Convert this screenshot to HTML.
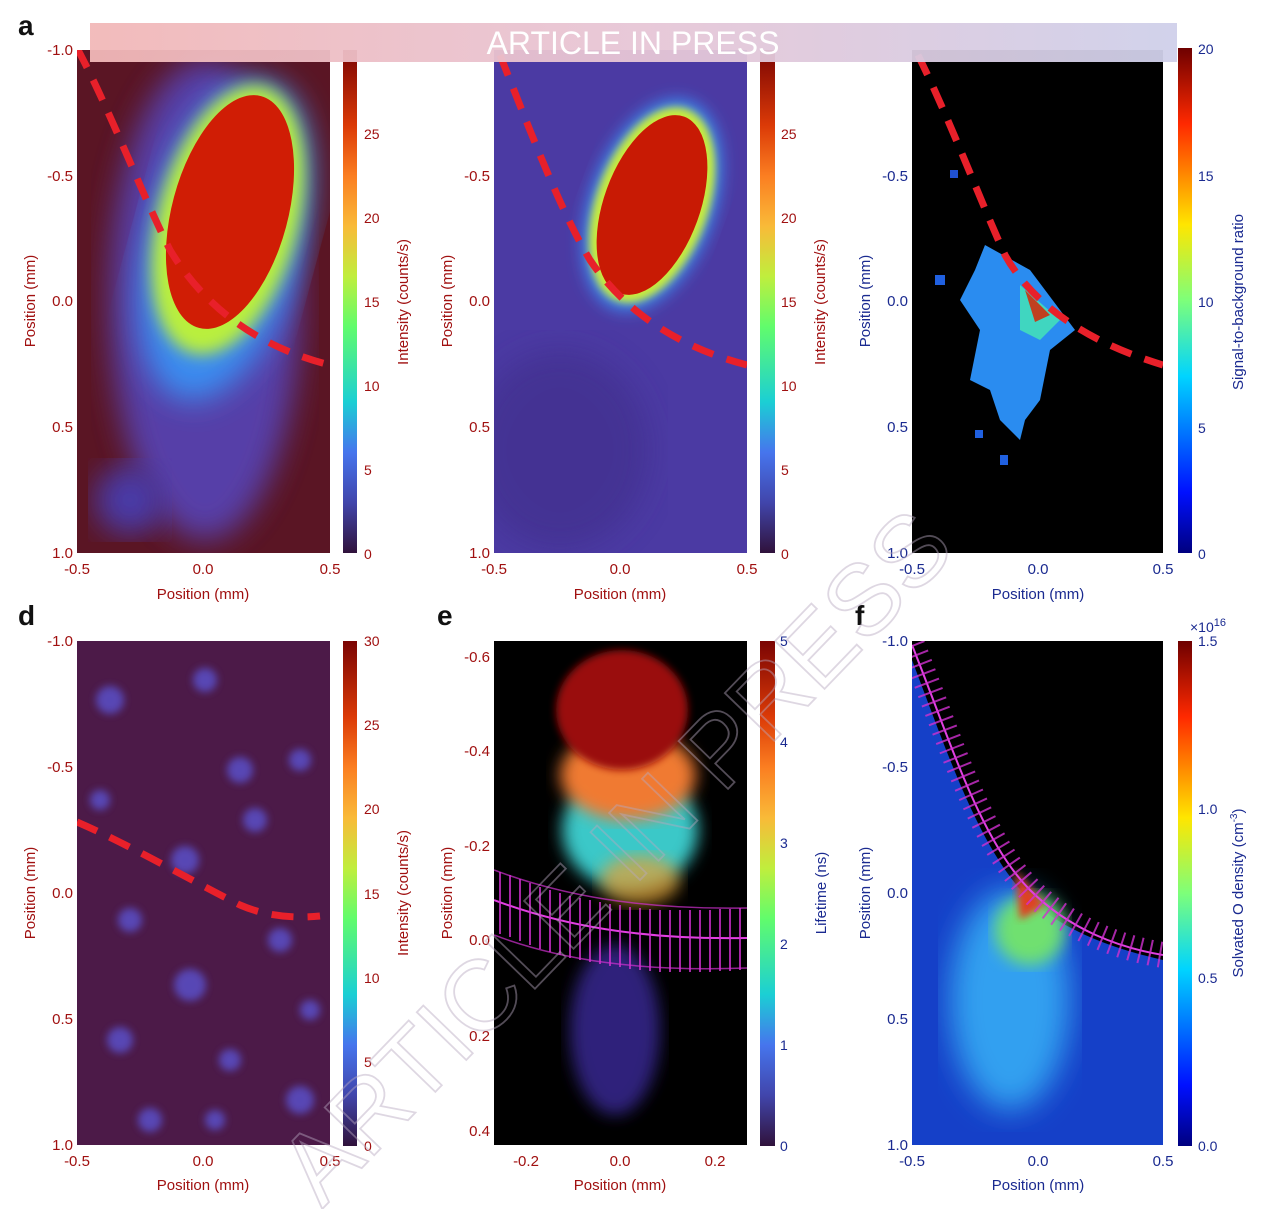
<!DOCTYPE html>
<html><head><meta charset="utf-8"><style>
html,body{margin:0;padding:0;background:#fff;width:1280px;height:1209px;overflow:hidden;}
svg{display:block;font-family:"Liberation Sans",sans-serif;}
</style></head><body>
<svg width="1280" height="1209" viewBox="0 0 1280 1209" xmlns="http://www.w3.org/2000/svg">
<defs>
<linearGradient id="turbo" x1="0" y1="1" x2="0" y2="0">
<stop offset="0" stop-color="#30123b"/><stop offset="0.1" stop-color="#4145ab"/><stop offset="0.2" stop-color="#4675ed"/>
<stop offset="0.3" stop-color="#1bcfd4"/><stop offset="0.45" stop-color="#61fc6c"/><stop offset="0.55" stop-color="#c0ee3d"/>
<stop offset="0.65" stop-color="#f9ba38"/><stop offset="0.75" stop-color="#fb7e21"/><stop offset="0.85" stop-color="#db3a07"/>
<stop offset="1" stop-color="#7a0403"/></linearGradient>
<linearGradient id="jet" x1="0" y1="1" x2="0" y2="0">
<stop offset="0" stop-color="#00007f"/><stop offset="0.12" stop-color="#0010ff"/><stop offset="0.35" stop-color="#00d4ff"/>
<stop offset="0.5" stop-color="#7dff7a"/><stop offset="0.65" stop-color="#ffe600"/><stop offset="0.85" stop-color="#ff2900"/>
<stop offset="1" stop-color="#6e0000"/></linearGradient>
<linearGradient id="ban" x1="0" x2="1"><stop offset="0" stop-color="#f2b8b8"/><stop offset="0.5" stop-color="#e7c6d6"/><stop offset="1" stop-color="#cfd0ea"/></linearGradient>
<filter id="b8"><feGaussianBlur stdDeviation="8"/></filter>
<filter id="b15"><feGaussianBlur stdDeviation="15"/></filter>
<filter id="b4"><feGaussianBlur stdDeviation="4"/></filter>
<clipPath id="ca"><rect x="77" y="50" width="253" height="503"/></clipPath>
<clipPath id="cb"><rect x="494" y="50" width="253" height="503"/></clipPath>
<clipPath id="cc"><rect x="912" y="50" width="251" height="503"/></clipPath>
<clipPath id="cd"><rect x="77" y="641" width="253" height="504"/></clipPath>
<clipPath id="ce"><rect x="494" y="641" width="253" height="504"/></clipPath>
<clipPath id="cf"><rect x="912" y="641" width="251" height="504"/></clipPath>
</defs>

<!-- Panel a -->
<g clip-path="url(#ca)">
<rect x="77" y="50" width="253" height="503" fill="#5a1524"/>
<ellipse cx="205" cy="300" rx="95" ry="240" fill="#5646c0" filter="url(#b15)" opacity="0.85"/>
<ellipse cx="130" cy="500" rx="35" ry="35" fill="#4a3aa8" filter="url(#b15)"/>
<ellipse cx="225" cy="240" rx="78" ry="165" transform="rotate(15 225 240)" fill="#3b8cf0" filter="url(#b15)"/>
<ellipse cx="228" cy="220" rx="70" ry="138" transform="rotate(15 228 220)" fill="#b9ef3e" filter="url(#b8)"/>
<ellipse cx="230" cy="212" rx="58" ry="120" transform="rotate(15 230 212)" fill="#d01d05"/>
<path d="M77,48 C110,110 140,190 170,250 C200,300 250,345 330,365" stroke="#e8202a" stroke-width="7" fill="none" stroke-dasharray="22,14"/>
</g>
<rect x="343" y="50" width="14" height="503" fill="url(#turbo)"/>

<!-- Panel b -->
<g clip-path="url(#cb)">
<rect x="494" y="50" width="253" height="503" fill="#4b3aa3"/>
<ellipse cx="560" cy="450" rx="90" ry="100" fill="#3f2f8a" filter="url(#b15)" opacity="0.6"/>
<ellipse cx="652" cy="205" rx="62" ry="110" transform="rotate(20 652 205)" fill="#3a8bf0" filter="url(#b8)"/>
<ellipse cx="652" cy="205" rx="56" ry="102" transform="rotate(20 652 205)" fill="#c8ec3c" filter="url(#b4)"/>
<ellipse cx="652" cy="205" rx="48" ry="94" transform="rotate(20 652 205)" fill="#c81a04"/>
<path d="M500,55 C530,130 560,210 590,260 C620,305 670,345 747,365" stroke="#e8202a" stroke-width="7" fill="none" stroke-dasharray="22,14"/>
</g>
<rect x="760" y="50" width="15" height="503" fill="url(#turbo)"/>

<!-- Panel c -->
<g clip-path="url(#cc)">
<rect x="912" y="50" width="251" height="503" fill="#000"/>
<path d="M985,245 L1030,270 L1075,330 L1050,350 L1040,400 L1025,420 L1020,440 L1000,420 L990,390 L970,380 L980,330 L960,300 L975,270 Z" fill="#2a8cf0"/>
<path d="M1020,285 L1060,320 L1040,340 L1020,330 Z" fill="#40d6c0"/>
<path d="M1025,290 L1050,315 L1035,322 Z" fill="#c04020"/>
<rect x="1000" y="455" width="8" height="10" fill="#2060e0"/><rect x="975" y="430" width="8" height="8" fill="#2060e0"/>
<rect x="950" y="170" width="8" height="8" fill="#2050d0"/><rect x="935" y="275" width="10" height="10" fill="#2060e0"/>
<path d="M918,55 C950,120 980,200 1005,255 C1030,300 1080,340 1163,365" stroke="#e8202a" stroke-width="7" fill="none" stroke-dasharray="22,14"/>
</g>
<rect x="1178" y="48" width="14" height="505" fill="url(#jet)"/>

<!-- Panel d -->
<g clip-path="url(#cd)">
<rect x="77" y="641" width="253" height="504" fill="#4c1a48"/>
<g fill="#5a50c8" opacity="0.85" filter="url(#b4)">
<circle cx="110" cy="700" r="14"/><circle cx="205" cy="680" r="12"/><circle cx="240" cy="770" r="13"/><circle cx="255" cy="820" r="12"/>
<circle cx="185" cy="860" r="14"/><circle cx="190" cy="985" r="16"/><circle cx="130" cy="920" r="12"/><circle cx="300" cy="760" r="11"/>
<circle cx="280" cy="940" r="12"/><circle cx="120" cy="1040" r="13"/><circle cx="300" cy="1100" r="14"/><circle cx="150" cy="1120" r="12"/>
<circle cx="230" cy="1060" r="11"/><circle cx="100" cy="800" r="10"/><circle cx="310" cy="1010" r="10"/><circle cx="215" cy="1120" r="10"/>
</g>
<path d="M77,822 C130,845 190,880 240,905 C270,918 300,918 320,916" stroke="#e8202a" stroke-width="7" fill="none" stroke-dasharray="22,14"/>
</g>
<rect x="343" y="641" width="14" height="505" fill="url(#turbo)"/>

<!-- Panel e -->
<g clip-path="url(#ce)">
<rect x="494" y="641" width="253" height="504" fill="#000"/>
<ellipse cx="615" cy="1030" rx="45" ry="85" fill="#3a2a9a" filter="url(#b8)" opacity="0.8"/>
<ellipse cx="630" cy="830" rx="68" ry="60" fill="#3ac8c8" filter="url(#b8)"/>
<ellipse cx="628" cy="775" rx="68" ry="45" fill="#f07a30" filter="url(#b8)"/>
<ellipse cx="622" cy="710" rx="66" ry="60" fill="#9a0a08" filter="url(#b4)"/>
<ellipse cx="640" cy="880" rx="40" ry="25" fill="#e8a030" filter="url(#b8)" opacity="0.7"/>
<path d="M494,900 C560,925 640,940 747,938" stroke="#e040e0" stroke-width="2" fill="none"/>
<path d="M494,870 C560,895 640,910 747,908 M494,935 C560,960 640,972 747,968" stroke="#d030d0" stroke-width="1.5" fill="none" opacity="0.7"/>
<g stroke="#d030d0" stroke-width="2" opacity="0.8">
<path d="M500,872 v62 M510,875 v62 M520,879 v62 M530,883 v62 M540,887 v62 M550,890 v62 M560,893 v62 M570,896 v62 M580,898 v62 M590,900 v62 M600,902 v62 M610,904 v62 M620,905 v62 M630,907 v62 M640,908 v62 M650,909 v62 M660,910 v62 M670,910 v62 M680,910 v62 M690,910 v62 M700,910 v62 M710,910 v62 M720,909 v62 M730,909 v62 M740,908 v62"/>
</g>
</g>
<rect x="760" y="641" width="15" height="505" fill="url(#turbo)"/>

<!-- Panel f -->
<g clip-path="url(#cf)">
<rect x="912" y="641" width="251" height="504" fill="#000"/>
<path d="M912,660 C950,760 980,850 1030,900 C1070,935 1120,950 1163,960 L1163,1145 L912,1145 Z" fill="#1540c8"/>
<ellipse cx="1010" cy="1000" rx="60" ry="110" fill="#30a0f0" filter="url(#b15)"/>
<ellipse cx="1030" cy="930" rx="35" ry="35" fill="#70e070" filter="url(#b8)"/>
<path d="M1015,870 L1045,905 L1020,920 Z" fill="#e04020" filter="url(#b4)"/>
<path d="M912,645 C950,740 980,840 1030,890 C1070,930 1120,948 1163,955" stroke="#e040e0" stroke-width="2" fill="none"/>
<path d="M912,645 C950,740 980,840 1030,890 C1070,930 1120,948 1163,955" stroke="#d030d0" stroke-width="26" fill="none" stroke-dasharray="2,8" opacity="0.8"/>
</g>
<rect x="1178" y="641" width="14" height="505" fill="url(#jet)"/>

<!-- Banner -->
<rect x="90" y="23" width="1087" height="39" fill="url(#ban)" opacity="0.95"/>
<text x="633" y="54" text-anchor="middle" font-size="32" fill="#fff">ARTICLE IN PRESS</text>

<!-- Panel letters -->
<g font-size="28" font-weight="bold" fill="#111">
<text x="18" y="35">a</text><text x="18" y="625">d</text><text x="437" y="625">e</text><text x="855" y="625">f</text>
</g>

<!-- Tick labels -->
<g font-size="15" fill="#a01010" text-anchor="end">
<text x="73" y="55">-1.0</text><text x="73" y="181">-0.5</text><text x="73" y="306">0.0</text><text x="73" y="432">0.5</text><text x="73" y="558">1.0</text>
<text x="490" y="181">-0.5</text><text x="490" y="306">0.0</text><text x="490" y="432">0.5</text><text x="490" y="558">1.0</text>
<text x="73" y="646">-1.0</text><text x="73" y="772">-0.5</text><text x="73" y="898">0.0</text><text x="73" y="1024">0.5</text><text x="73" y="1150">1.0</text>
<text x="490" y="662">-0.6</text><text x="490" y="756">-0.4</text><text x="490" y="851">-0.2</text><text x="490" y="945">0.0</text><text x="490" y="1041">0.2</text><text x="490" y="1136">0.4</text>
</g>
<g font-size="15" fill="#1a2a90" text-anchor="end">
<text x="908" y="181">-0.5</text><text x="908" y="306">0.0</text><text x="908" y="432">0.5</text><text x="908" y="558">1.0</text>
<text x="908" y="646">-1.0</text><text x="908" y="772">-0.5</text><text x="908" y="898">0.0</text><text x="908" y="1024">0.5</text><text x="908" y="1150">1.0</text>
</g>
<g font-size="15" fill="#a01010" text-anchor="middle">
<text x="77" y="574">-0.5</text><text x="203" y="574">0.0</text><text x="330" y="574">0.5</text>
<text x="494" y="574">-0.5</text><text x="620" y="574">0.0</text><text x="747" y="574">0.5</text>
<text x="77" y="1166">-0.5</text><text x="203" y="1166">0.0</text><text x="330" y="1166">0.5</text>
<text x="526" y="1166">-0.2</text><text x="620" y="1166">0.0</text><text x="715" y="1166">0.2</text>
</g>
<g font-size="15" fill="#1a2a90" text-anchor="middle">
<text x="912" y="574">-0.5</text><text x="1038" y="574">0.0</text><text x="1163" y="574">0.5</text>
<text x="912" y="1166">-0.5</text><text x="1038" y="1166">0.0</text><text x="1163" y="1166">0.5</text>
</g>
<!-- colorbar ticks -->
<g font-size="14" fill="#a01010">
<text x="364" y="139">25</text><text x="364" y="223">20</text><text x="364" y="307">15</text><text x="364" y="391">10</text><text x="364" y="475">5</text><text x="364" y="559">0</text>
<text x="781" y="139">25</text><text x="781" y="223">20</text><text x="781" y="307">15</text><text x="781" y="391">10</text><text x="781" y="475">5</text><text x="781" y="559">0</text>
<text x="364" y="646">30</text><text x="364" y="730">25</text><text x="364" y="814">20</text><text x="364" y="899">15</text><text x="364" y="983">10</text><text x="364" y="1067">5</text><text x="364" y="1151">0</text>
</g>
<g font-size="14" fill="#1a2a90">
<text x="780" y="646">5</text><text x="780" y="747">4</text><text x="780" y="848">3</text><text x="780" y="949">2</text><text x="780" y="1050">1</text><text x="780" y="1151">0</text>
<text x="1198" y="54">20</text><text x="1198" y="181">15</text><text x="1198" y="307">10</text><text x="1198" y="433">5</text><text x="1198" y="559">0</text>
<text x="1198" y="646">1.5</text><text x="1198" y="814">1.0</text><text x="1198" y="983">0.5</text><text x="1198" y="1151">0.0</text>
<text x="1190" y="632">×10<tspan font-size="11" dy="-6">16</tspan></text>
</g>
<!-- axis titles -->
<g font-size="15" fill="#a01010" text-anchor="middle">
<text x="203" y="599">Position (mm)</text><text x="620" y="599">Position (mm)</text>
<text x="203" y="1190">Position (mm)</text><text x="620" y="1190">Position (mm)</text>
<text transform="translate(35,301) rotate(-90)">Position (mm)</text>
<text transform="translate(452,301) rotate(-90)">Position (mm)</text>
<text transform="translate(35,893) rotate(-90)">Position (mm)</text>
<text transform="translate(452,893) rotate(-90)">Position (mm)</text>
<text transform="translate(408,302) rotate(-90)">Intensity (counts/s)</text>
<text transform="translate(825,302) rotate(-90)">Intensity (counts/s)</text>
<text transform="translate(408,893) rotate(-90)">Intensity (counts/s)</text>
</g>
<g font-size="15" fill="#1a2a90" text-anchor="middle">
<text x="1038" y="599">Position (mm)</text><text x="1038" y="1190">Position (mm)</text>
<text transform="translate(870,301) rotate(-90)">Position (mm)</text>
<text transform="translate(870,893) rotate(-90)">Position (mm)</text>
<text transform="translate(1243,302) rotate(-90)">Signal-to-background ratio</text>
<text transform="translate(826,893) rotate(-90)">Lifetime (ns)</text>
<text transform="translate(1243,893) rotate(-90)">Solvated O density (cm<tspan font-size="10" dy="-6">-3</tspan><tspan dy="6">)</tspan></text>
</g>

<!-- Watermark -->
<text transform="translate(640,880) rotate(-46)" text-anchor="middle" font-size="100" fill="none" stroke="#b8a8c0" stroke-width="1.8" opacity="0.45">ARTICLE IN PRESS</text>
</svg>
</body></html>
